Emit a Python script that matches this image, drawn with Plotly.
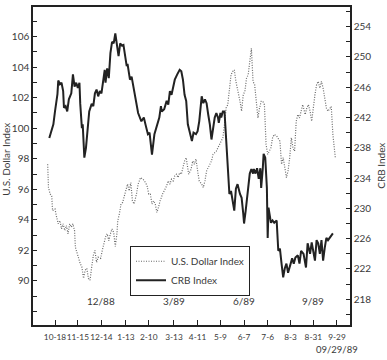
import plotly.graph_objects as go

# ---------------- data ----------------
crb_dates = [
    "1988-10-11", "1988-10-14", "1988-10-16", "1988-10-18", "1988-10-21", "1988-10-22", "1988-10-24",
    "1988-10-26", "1988-10-28", "1988-10-29", "1988-10-31", "1988-11-02", "1988-11-04", "1988-11-07",
    "1988-11-09", "1988-11-11", "1988-11-13", "1988-11-15", "1988-11-17", "1988-11-18", "1988-11-20",
    "1988-11-21", "1988-11-23", "1988-11-25", "1988-11-27", "1988-11-29", "1988-12-02", "1988-12-04",
    "1988-12-06", "1988-12-08", "1988-12-10", "1988-12-12", "1988-12-14", "1988-12-16", "1988-12-18",
    "1988-12-19", "1988-12-21", "1988-12-23", "1988-12-25", "1988-12-27", "1988-12-29", "1988-12-31",
    "1989-01-02", "1989-01-04", "1989-01-06", "1989-01-08", "1989-01-10", "1989-01-14", "1989-01-15",
    "1989-01-18", "1989-01-20", "1989-01-22", "1989-01-24", "1989-01-28", "1989-02-01", "1989-02-04",
    "1989-02-06", "1989-02-09", "1989-02-11", "1989-02-14", "1989-02-17", "1989-02-19", "1989-02-23",
    "1989-02-25", "1989-02-26", "1989-03-01", "1989-03-04", "1989-03-06", "1989-03-08", "1989-03-10",
    "1989-03-12", "1989-03-14", "1989-03-17", "1989-03-20", "1989-03-22", "1989-03-24", "1989-03-26",
    "1989-03-28", "1989-03-30", "1989-04-02", "1989-04-04", "1989-04-06", "1989-04-09", "1989-04-11",
    "1989-04-13", "1989-04-16", "1989-04-18", "1989-04-20", "1989-04-22", "1989-04-24", "1989-04-26",
    "1989-04-28", "1989-04-30", "1989-05-02", "1989-05-04", "1989-05-06", "1989-05-07", "1989-05-09",
    "1989-05-10", "1989-05-12", "1989-05-14", "1989-05-16", "1989-05-18", "1989-05-19", "1989-05-20",
    "1989-05-22", "1989-05-24", "1989-05-26", "1989-05-28", "1989-05-30", "1989-06-02", "1989-06-04",
    "1989-06-06", "1989-06-07", "1989-06-09", "1989-06-12", "1989-06-14", "1989-06-16", "1989-06-18",
    "1989-06-19", "1989-06-21", "1989-06-23", "1989-06-25", "1989-06-27", "1989-06-28", "1989-06-30",
    "1989-07-01", "1989-07-03", "1989-07-05", "1989-07-06", "1989-07-07", "1989-07-10", "1989-07-12",
    "1989-07-14", "1989-07-17", "1989-07-19", "1989-07-21", "1989-07-23", "1989-07-25", "1989-07-27",
    "1989-07-29", "1989-07-31", "1989-08-02", "1989-08-05", "1989-08-07", "1989-08-09", "1989-08-12",
    "1989-08-14", "1989-08-16", "1989-08-19", "1989-08-22", "1989-08-24", "1989-08-27", "1989-08-29",
    "1989-09-02", "1989-09-04", "1989-09-06", "1989-09-08", "1989-09-10", "1989-09-12", "1989-09-14",
    "1989-09-16", "1989-09-18", "1989-09-20", "1989-09-24",
]
crb_values = [
    239.3, 240.6, 241.1, 242.8, 245.1, 246.9, 246.4,
    246.6, 245.5, 243.3, 243.5, 242.8, 244.4, 245.2,
    247.7, 246.1, 246.6, 245.9, 246.6, 243.8, 240.6,
    241.1, 236.7, 238.0, 240.2, 242.8, 243.8, 243.5,
    245.2, 245.7, 244.8, 245.5, 245.2, 247.0, 248.3,
    246.6, 248.5, 247.2, 250.5, 252.0, 251.8, 253.1,
    251.4, 250.1, 251.8, 251.5, 251.6, 248.8, 249.1,
    247.0, 247.4, 246.3, 245.2, 242.6, 241.5, 242.0,
    241.1, 239.8, 240.0, 237.1, 239.8, 240.6, 242.0,
    243.5, 242.8, 243.1, 244.2, 243.7, 245.5, 245.0,
    246.3, 247.0, 247.7, 248.3, 248.1, 247.0, 245.0,
    244.2, 241.1, 239.8, 238.9, 240.0, 239.8, 240.2,
    241.5, 244.8, 243.9, 244.4, 243.9, 242.4, 241.1,
    239.1, 240.6, 242.0, 242.6, 242.0, 241.3, 242.6,
    242.0, 242.8, 242.8, 238.9, 235.0, 232.8, 231.9,
    232.3, 231.0, 229.7, 232.6, 233.2, 231.9, 231.4,
    229.3, 228.0, 229.7, 232.3, 234.6, 235.2, 234.6,
    235.2, 234.6, 235.3, 233.9, 235.3, 232.7, 235.3,
    237.2, 236.7, 232.7, 226.1, 230.1, 228.1, 228.4,
    228.1, 228.4, 224.4, 224.7, 222.7, 220.9, 222.1,
    222.7, 221.5, 222.2, 223.4, 222.7, 223.5, 223.8,
    222.7, 224.4, 224.0, 222.2, 225.4, 224.0, 225.5,
    223.1, 225.8, 225.4, 224.0, 225.8, 223.1, 224.8,
    226.1, 225.8, 226.1, 226.7,
]

usd_dates = [
    "1988-10-09", "1988-10-10", "1988-10-12", "1988-10-14", "1988-10-15", "1988-10-18", "1988-10-20",
    "1988-10-22", "1988-10-24", "1988-10-26", "1988-10-28", "1988-10-30", "1988-11-01", "1988-11-03",
    "1988-11-05", "1988-11-07", "1988-11-09", "1988-11-11", "1988-11-12", "1988-11-14", "1988-11-16",
    "1988-11-18", "1988-11-20", "1988-11-22", "1988-11-24", "1988-11-26", "1988-11-28", "1988-11-30",
    "1988-12-02", "1988-12-04", "1988-12-06", "1988-12-08", "1988-12-10", "1988-12-13", "1988-12-15",
    "1988-12-17", "1988-12-19", "1988-12-21", "1988-12-23", "1988-12-25", "1988-12-27", "1988-12-29",
    "1988-12-31", "1989-01-02", "1989-01-03", "1989-01-05", "1989-01-07", "1989-01-09", "1989-01-11",
    "1989-01-13", "1989-01-15", "1989-01-17", "1989-01-19", "1989-01-21", "1989-01-23", "1989-01-26",
    "1989-01-28", "1989-01-31", "1989-02-03", "1989-02-06", "1989-02-08", "1989-02-10", "1989-02-12",
    "1989-02-14", "1989-02-16", "1989-02-18", "1989-02-20", "1989-02-22", "1989-02-24", "1989-02-27",
    "1989-03-02", "1989-03-04", "1989-03-06", "1989-03-08", "1989-03-10", "1989-03-12", "1989-03-14",
    "1989-03-16", "1989-03-18", "1989-03-20", "1989-03-22", "1989-03-24", "1989-03-26", "1989-03-28",
    "1989-03-30", "1989-03-31", "1989-04-03", "1989-04-05", "1989-04-07", "1989-04-09", "1989-04-11",
    "1989-04-13", "1989-04-16", "1989-04-18", "1989-04-20", "1989-04-22", "1989-04-24", "1989-04-26",
    "1989-04-28", "1989-04-30", "1989-05-04", "1989-05-08", "1989-05-12", "1989-05-14", "1989-05-16",
    "1989-05-18", "1989-05-20", "1989-05-22", "1989-05-24", "1989-05-26", "1989-05-28", "1989-05-30",
    "1989-06-02", "1989-06-04", "1989-06-06", "1989-06-08", "1989-06-10", "1989-06-12", "1989-06-14",
    "1989-06-16", "1989-06-18", "1989-06-20", "1989-06-22", "1989-06-24", "1989-06-26", "1989-06-28",
    "1989-06-30", "1989-07-02", "1989-07-04", "1989-07-06", "1989-07-08", "1989-07-10", "1989-07-12",
    "1989-07-14", "1989-07-17", "1989-07-19", "1989-07-21", "1989-07-23", "1989-07-25", "1989-07-27",
    "1989-07-29", "1989-07-31", "1989-08-02", "1989-08-04", "1989-08-06", "1989-08-08", "1989-08-10",
    "1989-08-12", "1989-08-14", "1989-08-16", "1989-08-18", "1989-08-21", "1989-08-23", "1989-08-25",
    "1989-08-27", "1989-08-29", "1989-08-31", "1989-09-02", "1989-09-04", "1989-09-06", "1989-09-08",
    "1989-09-10", "1989-09-12", "1989-09-14", "1989-09-16", "1989-09-18", "1989-09-20", "1989-09-22",
    "1989-09-24", "1989-09-26", "1989-09-27",
]
usd_values = [
    97.64, 96.12, 95.69, 95.58, 94.60, 94.71, 94.17,
    93.74, 93.95, 93.41, 93.74, 93.30, 93.63, 93.09,
    93.74, 93.52, 93.74, 93.30, 92.21, 91.79, 91.56,
    91.13, 90.91, 90.18, 90.70, 90.83, 90.18, 90.05,
    90.91, 91.67, 92.00, 91.22, 91.56, 91.48, 92.00,
    92.44, 92.87, 93.09, 92.65, 93.09, 93.41, 93.17,
    92.26, 93.11, 93.95, 94.39, 95.04, 95.14, 95.58,
    95.90, 96.34, 95.90, 96.44, 95.25, 95.04, 95.69,
    96.34, 96.77, 96.66, 96.44, 96.23, 95.69, 95.69,
    95.04, 95.25, 95.04, 94.49, 94.82, 95.25, 95.69,
    96.01, 96.23, 96.55, 96.34, 96.66, 96.55, 96.88,
    96.99, 96.77, 97.09, 96.99, 97.42, 97.85, 98.07,
    97.07, 96.99, 97.31, 97.85, 97.64, 97.98, 97.20,
    96.55, 96.34, 96.12, 96.55, 97.20, 97.42, 97.64,
    97.85, 98.29, 98.50, 98.94, 99.37, 100.24, 101.32,
    101.54, 102.62, 103.49, 103.71, 103.82, 103.06, 102.62,
    101.76, 101.11, 102.19, 102.41, 103.27, 103.49, 104.57,
    105.22, 103.06, 102.84, 101.76, 100.67, 101.32, 101.76,
    101.76, 101.54, 98.94, 98.29, 98.50, 98.72, 99.37,
    99.59, 99.48, 99.27, 99.15, 97.64, 98.07, 97.42,
    96.77, 97.20, 98.07, 99.37, 98.72, 98.50, 100.46,
    100.89, 100.67, 101.11, 101.54, 100.89, 101.32, 101.54,
    101.11, 100.46, 101.54, 102.19, 102.84, 103.06, 102.62,
    103.06, 102.62, 101.97, 101.32, 101.11, 101.32, 101.43,
    99.59, 98.50, 98.07,
]

x_tick_dates = ["1988-10-18", "1988-11-15", "1988-12-14", "1989-01-13", "1989-02-10", "1989-03-13",
                "1989-04-11", "1989-05-09", "1989-06-07", "1989-07-06", "1989-08-03", "1989-08-31",
                "1989-09-29"]
x_tick_labels = ["10-18", "11-15", "12-14", "1-13", "2-10", "3-13", "4-11", "5-9", "6-7", "7-6",
                 "8-3", "8-31", "9-29"]
month_marks = ["1988-12-14", "1989-03-13", "1989-06-07", "1989-08-31"]
month_labels = ["12/88", "3/89", "6/89", "9/89"]
usd_ticks = [90, 92, 94, 96, 98, 100, 102, 104, 106]
crb_ticks = [218, 222, 226, 230, 234, 238, 242, 246, 250, 254]

# ---------------- figure ----------------
FONT = "Lato, 'Open Sans', sans-serif"
TXT = "#3a3a3a"
INK = "#222222"

fig = go.Figure()
fig.add_trace(go.Scatter(
    x=usd_dates, y=usd_values, name="U.S. Dollar Index", mode="lines",
    line=dict(color="#6a6a6a", width=1.2, dash="1px,1.5px"), yaxis="y",
))
fig.add_trace(go.Scatter(
    x=crb_dates, y=crb_values, name="CRB Index", mode="lines",
    line=dict(color=INK, width=2), yaxis="y2",
))

fig.update_layout(
    width=387, height=360,
    margin=dict(l=33, r=37, t=5, b=35),
    paper_bgcolor="white", plot_bgcolor="white",
    font=dict(family=FONT, size=10, color=TXT),
    showlegend=True,
    legend=dict(
        x=0.306, y=0.092, xanchor="left", yanchor="bottom",
        bordercolor=INK, borderwidth=1, bgcolor="white",
        font=dict(size=10, color=TXT), tracegroupgap=0,
        itemwidth=30,
    ),
    xaxis=dict(
        type="date", range=["1988-09-21", "1989-10-15"],
        tickvals=x_tick_dates, ticktext=x_tick_labels, tickangle=0,
        ticks="inside", ticklen=5, tickcolor=INK, ticklabelstandoff=3,
        showline=True, linecolor=INK, linewidth=1.5, mirror=True,
        showgrid=False, zeroline=False,
        tickfont=dict(size=8.3, color=TXT),
    ),
    yaxis=dict(
        range=[87.12, 107.93], tickvals=usd_ticks,
        ticks="inside", ticklen=4, tickcolor=INK,
        minor=dict(dtick=1, ticks="inside", ticklen=4, tickcolor=INK),
        showline=True, linecolor=INK, linewidth=1.5,
        showgrid=False, zeroline=False,
        tickfont=dict(size=10, color=TXT),
    ),
    yaxis2=dict(
        range=[214.6, 256.6], tickvals=crb_ticks, overlaying="y", side="right",
        ticks="inside", ticklen=4, tickcolor=INK,
        minor=dict(dtick=2, ticks="inside", ticklen=4, tickcolor=INK),
        showline=True, linecolor=INK, linewidth=1.5,
        showgrid=False, zeroline=False,
        tickfont=dict(size=10, color=TXT),
    ),
)

for d, lab in zip(month_marks, month_labels):
    fig.add_annotation(x=d, y=0.075, xref="x", yref="paper", text=lab, showarrow=False,
                       font=dict(size=10, color=TXT), xanchor="center", yanchor="middle")

fig.add_annotation(x="1989-09-29", y=-0.078, xref="x", yref="paper", text="09/29/89",
                   showarrow=False, font=dict(size=9.5, color=TXT), xanchor="center", yanchor="middle")

fig.add_annotation(x=-0.085, y=0.52, xref="paper", yref="paper", text="U.S. Dollar Index",
                   textangle=-90, showarrow=False, font=dict(size=10, color=TXT),
                   xanchor="center", yanchor="middle")
fig.add_annotation(x=1.097, y=0.50, xref="paper", yref="paper", text="CRB Index",
                   textangle=-90, showarrow=False, font=dict(size=10, color=TXT),
                   xanchor="center", yanchor="middle")

fig.write_html("out.html")
